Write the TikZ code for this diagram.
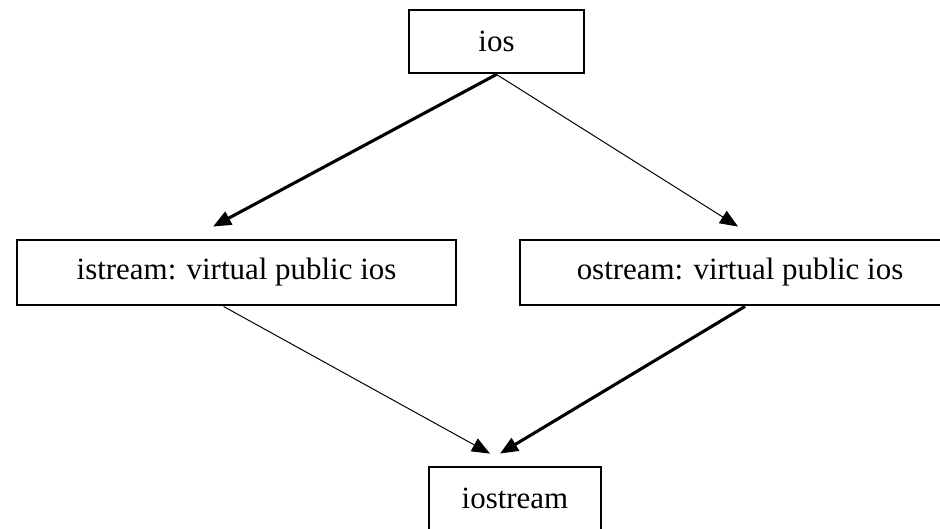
\documentclass[tikz,border=0pt]{standalone}
\usepackage{fontspec}
\setmainfont{Liberation Serif}
\usetikzlibrary{arrows.meta,calc}
\tikzset{
  box/.style={draw,line width=2pt,font=\fontsize{22}{26}\selectfont},
  heavy/.style={line width=2.2pt,-{Triangle[length=0.45cm,width=0.36cm]}},
  light/.style={line width=0.7pt,-{Triangle[length=0.45cm,width=0.36cm]}}
}
\begin{document}
\begin{tikzpicture}[x=0.025cm,y=-0.025cm]
      \useasboundingbox (0,0) rectangle (940,528);
      \node[box,minimum width=4.375cm,minimum height=1.575cm] (ios) at (496.5,41.5) {ios};
      \node[box,minimum width=10.975cm,minimum height=1.625cm] (istream) at (236.5,272.5) {istream: virtual public ios};
      \node[box,minimum width=11cm,minimum height=1.625cm] (ostream) at (740,272.5) {ostream: virtual public ios};
      \node[box,minimum width=4.3cm,minimum height=1.575cm] (iostream) at (515,498.5) {iostream};
      \draw[heavy] (ios.south) to ($(istream.north)+(-23.5,-12)$);
      \draw[light] (ios.south) to ($(ostream.north)+(-2,-12)$);
      \draw[light] ($(istream.south)+(-13,0)$) to ($(iostream.north)+(-25,-12)$);
      \draw[heavy] ($(ostream.south)+(5,0)$) to ($(iostream.north)+(-15,-12)$);
    \end{tikzpicture}
\end{document}
